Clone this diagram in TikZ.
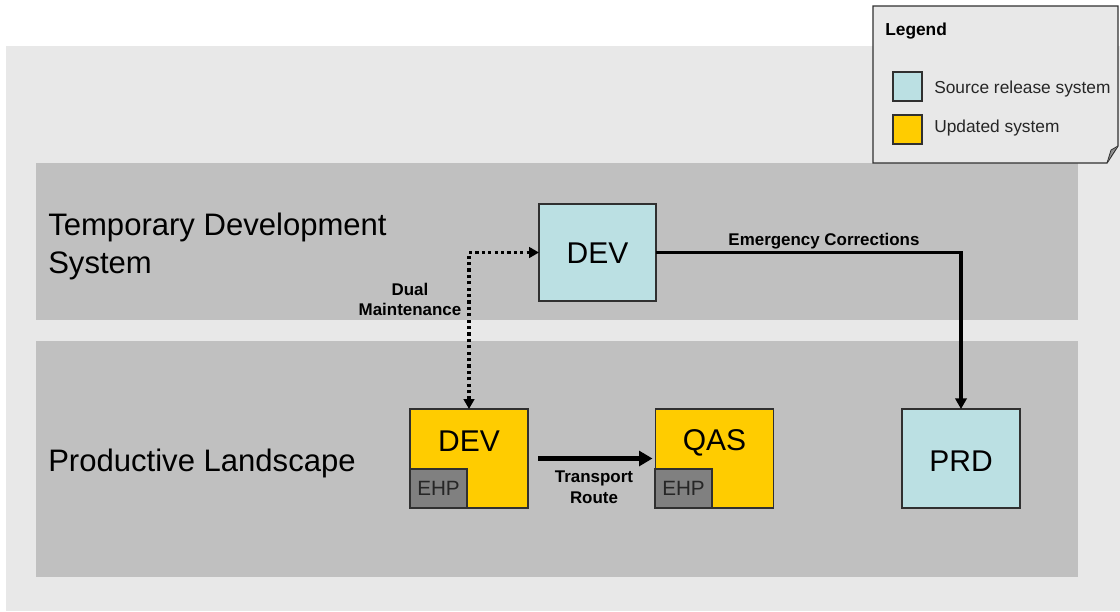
\documentclass[tikz,border=0pt]{standalone}
\usepackage{fontspec}
\setmainfont{Liberation Sans}
\usetikzlibrary{arrows.meta}
\definecolor{outerbg}{HTML}{E8E8E8}
\definecolor{bandbg}{HTML}{C0C0C0}
\definecolor{srcblue}{HTML}{BBE0E3}
\definecolor{updyellow}{HTML}{FFCC00}
\definecolor{ehpgrey}{HTML}{808080}
\definecolor{edgegrey}{HTML}{303030}
\tikzset{
  sysbox/.style={draw=edgegrey, line width=0.9pt, inner sep=0pt, outer sep=0pt},
  srcbox/.style={sysbox, fill=srcblue, minimum width=87.75pt, minimum height=72.75pt},
  updbox/.style={sysbox, fill=updyellow, minimum width=88.5pt, minimum height=74.25pt},
  ehpbox/.style={sysbox, fill=ehpgrey, minimum width=42.75pt, minimum height=29.25pt, font=\fontsize{15.5}{18}\selectfont, text=black!85},
  systext/.style={font=\fontsize{22.5}{25}\selectfont, inner sep=0pt},
  bandtext/.style={font=\fontsize{23.3}{28.5}\selectfont, align=left, anchor=west, inner sep=0pt},
  smallbold/.style={font=\fontsize{12.7}{15.5}\selectfont\bfseries, align=center, inner sep=0pt},
  legtext/.style={font=\fontsize{13}{14}\selectfont, anchor=west, inner sep=0pt, text=black!85},
  conn/.style={line width=2.8pt, -{Triangle[length=8pt,width=8.5pt]}},
  dotconn/.style={line width=2.7pt, dash pattern=on 2.4pt off 2.4pt, {Triangle[length=7.5pt,width=8pt]}-{Triangle[length=7.5pt,width=8pt]}},
  bigconn/.style={line width=4pt, -{Triangle[length=10pt,width=11pt]}},
}
\begin{document}
\begin{tikzpicture}[x=0.75pt,y=-0.75pt]
\useasboundingbox (0,0) rectangle (1120,611);
% backgrounds
\fill[white] (0,0) rectangle (1120,611);
\fill[outerbg] (6,46) rectangle (1120,611);
\fill[bandbg] (36,163) rectangle (1078,320);
\fill[bandbg] (36,341) rectangle (1078,577);
% band labels
\node[bandtext] (lbltemp) at (48,246) {Temporary Development\\System};
\node[bandtext] (lblprod) at (48,463) {Productive Landscape};
% systems
\node[srcbox] (devT) at (597.5,252.5) {};
\node[systext] (devTtext) at (597.5,253.5) {DEV};
\node[updbox] (devP) at (469,458.5) {};
\node[systext] (devPtext) at (469,441) {DEV};
\node[ehpbox] (ehp1) at (438.5,488.5) {EHP};
\node[updbox] (qas) at (714.5,458.5) {};
\node[systext] (qastext) at (714.5,442.5) {QAS};
\node[ehpbox] (ehp2) at (683.5,488.5) {EHP};
\node[srcbox, minimum width=88.5pt, minimum height=74.25pt] (prd) at (961,458.5) {};
\node[systext] (prdtext) at (961,461) {PRD};
% connectors
\draw[dotconn] (devP.north) |- (devT.west);
\draw[conn] (devT.east) -| (prd.north);
\draw[bigconn, shorten <=7.5pt, shorten >=2.25pt] (devP) -- (qas);
% connector labels
\node[smallbold] (lblem) at (824,241.5) {Emergency Corrections};
\node[smallbold] (lbldual) at (410,299.5) {Dual\\Maintenance};
\node[smallbold] (lbltr) at (594,487.5) {Transport\\Route};
% legend
\draw[draw=edgegrey, line width=0.9pt, fill=outerbg] (873,6) -- (1118,6) -- (1118,146) -- (1107,163) -- (873,163) -- cycle;
\fill[black!45] (1107,163) -- (1111,150) -- (1118,146) -- (1113,152) -- cycle;
\draw[draw=edgegrey, line width=0.6pt] (1107,163) -- (1111,150) -- (1118,146);
\node[font=\fontsize{13}{14}\selectfont\bfseries, anchor=west, inner sep=0pt] (legtitle) at (885,31.5) {Legend};
\node[sysbox, fill=srcblue, minimum width=21.75pt, minimum height=21.75pt] (legsrc) at (907.5,86.5) {};
\node[legtext] (legsrctext) at (934,89.5) {Source release system};
\node[sysbox, fill=updyellow, minimum width=21.75pt, minimum height=21.75pt] (legupd) at (907.5,129.5) {};
\node[legtext] (legupdtext) at (934,128.5) {Updated system};
\end{tikzpicture}
\end{document}
